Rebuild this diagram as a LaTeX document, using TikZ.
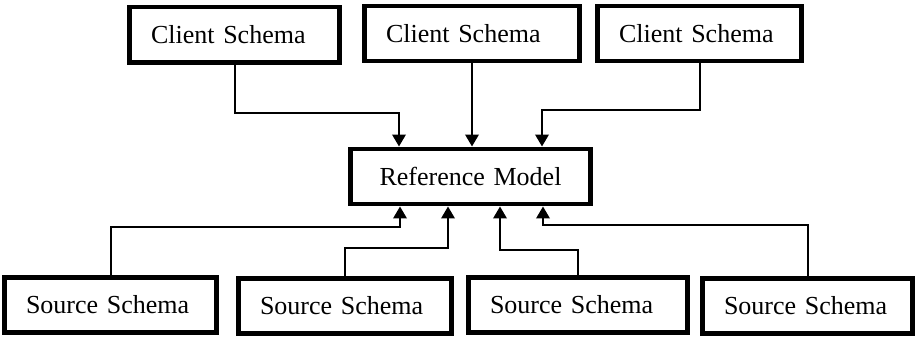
\documentclass[tikz,border=0pt]{standalone}
\usepackage{fontspec}
\setmainfont{Liberation Serif}
\usepackage{tikz}
\usetikzlibrary{arrows.meta,calc}

\tikzset{
  box/.style={draw, line width=0.09cm, minimum height=1.11cm,
              inner xsep=0.43cm, inner ysep=0pt,
              font=\fontsize{14.8pt}{17pt}\selectfont},
  schema/.style={box, text width=#1, align=left},
  link/.style={line width=0.04cm, -{Triangle[length=0.24cm,width=0.27cm]}}
}

\begin{document}
\begin{tikzpicture}[x=0.02cm, y=-0.02cm]
                  \useasboundingbox (0,0) rectangle (916,337);

                  % Client schemas on top
                  \node[schema=3.34cm] (c1) at (234.5,35)   {Client Schema};
                  \node[schema=3.44cm] (c2) at (472,33.5)   {Client Schema};
                  \node[schema=3.22cm] (c3) at (699.5,33.5) {Client Schema};

                  % Reference model in the middle
                  \node[box, text width=3.94cm, align=center] (ref) at (470.5,176.5) {Reference Model};

                  % Source schemas at the bottom
                  \node[schema=3.38cm] (s1) at (110.5,305) {Source Schema};
                  \node[schema=3.40cm] (s2) at (345,306)   {Source Schema};
                  \node[schema=3.52cm] (s3) at (578,305)   {Source Schema};
                  \node[schema=3.34cm] (s4) at (807.5,306) {Source Schema};

                  % Clients down to the reference model
                  \draw[link] (c1.south) -- ++(0,48) -| ($(ref.north)+(-71.5,0)$);
                  \draw[link] (c2.south) -- (c2.south |- ref.north);
                  \draw[link] (c3.south) -- ++(0,47) -| ($(ref.north)+(71.5,0)$);

                  % Sources up to the reference model
                  \draw[link] (s1.north) -- ++(0,-48) -| ($(ref.south)+(-70.5,0)$);
                  \draw[link] (s2.north) -- ++(0,-28) -| ($(ref.south)+(-22.5,0)$);
                  \draw[link] (s3.north) -- ++(0,-25) -| ($(ref.south)+(29.5,0)$);
                  \draw[link] (s4.north) -- ++(0,-51) -| ($(ref.south)+(72.5,0)$);
              \end{tikzpicture}
\end{document}
